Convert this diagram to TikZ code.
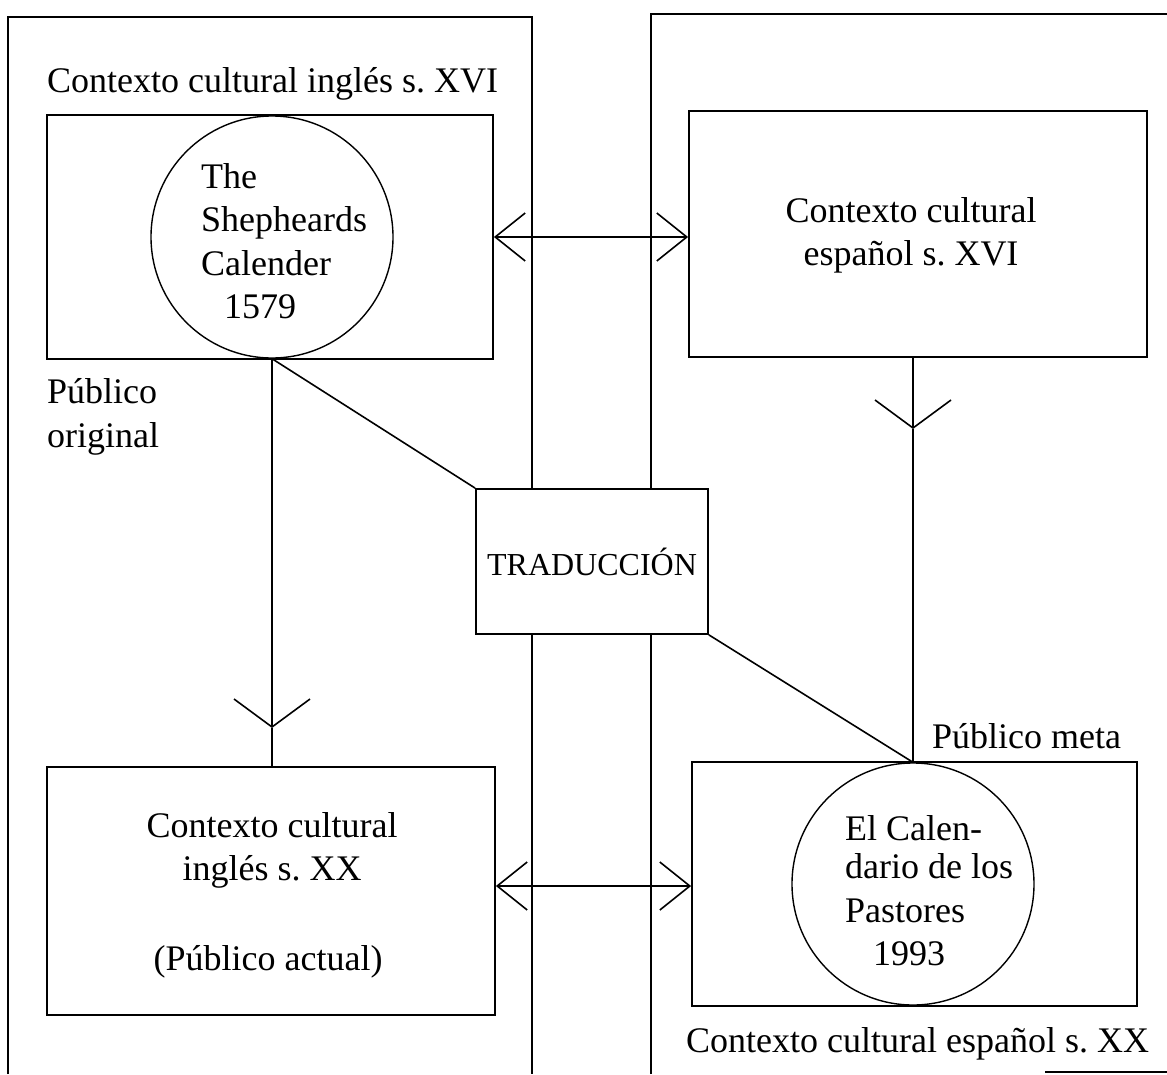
\documentclass[tikz,border=0pt]{standalone}
\usepackage{fontspec}
\setmainfont{Liberation Serif}
\usetikzlibrary{arrows.meta}
\frenchspacing
\begin{document}
\begin{tikzpicture}[x=1pt,y=-1pt,
  every node/.style={font=\fontsize{36}{43}\selectfont, inner sep=0pt},
  ln/.style={line width=1.6pt},
  boxn/.style={draw, line width=1.8pt, rectangle, inner sep=0pt},
  circn/.style={draw, line width=1.4pt, circle, inner sep=0pt, minimum size=242pt},
  lbl/.style={anchor=base west},
  clbl/.style={anchor=base},
  vhead/.style={-{Straight Barb[length=28pt,width=76pt]}},
  hhead/.style={{Straight Barb[length=30pt,width=48pt]}-{Straight Barb[length=30pt,width=48pt]}}
]
\useasboundingbox (0,0) rectangle (1167,1074);
% outer frames
\draw[ln] (8,1074) -- (8,17) -- (532,17) -- (532,1074);
\draw[ln] (651,1074) -- (651,14) -- (1167,14);
\draw[ln] (1045,1072) -- (1167,1072);
% boxes
\node[boxn, minimum width=446pt, minimum height=244pt] (TL) at (270,237) {};
\node[circn] (TLc) at (272,237) {};
\node[boxn, minimum width=458pt, minimum height=246pt] (TR) at (918,234) {};
\node[boxn, minimum width=448pt, minimum height=248pt] (BL) at (271,891) {};
\node[boxn, minimum width=445pt, minimum height=244pt] (BR) at (914.5,884) {};
\node[circn] (BRc) at (913,884) {};
\node[boxn, fill=white, minimum width=232pt, minimum height=145pt, font=\fontsize{32}{38}\selectfont] (TRAD) at (592,561.5) {TRADUCCIÓN};
% connectors
\coordinate (tipL) at (272,728);
\coordinate (tipR) at (913,429);
\coordinate (ya) at (0,886);
\draw[ln] (TLc.south) -- (TRAD.north west);
\draw[ln, vhead] (TLc.south) -- (tipL);
\draw[ln] (tipL) -- (tipL |- BL.north);
\draw[ln, vhead] (tipR |- TR.south) -- (tipR);
\draw[ln] (tipR) -- (BRc.north);
\draw[ln] (TRAD.south east) -- (BRc.north);
\draw[ln, hhead] (TL.east) -- (TR.west |- TL.east);
\draw[ln, hhead] (BL.east |- ya) -- (BR.west |- ya);
% texts
\node[lbl] (t1) at (47,92) {Contexto cultural inglés s. XVI};
\node[lbl] (c1a) at (201,188) {The};
\node[lbl] (c1b) at (201,231) {Shepheards};
\node[lbl] (c1c) at (201,275) {Calender};
\node[lbl] (c1d) at (224,318) {1579};
\node[lbl] (po1) at (47,403) {Público};
\node[lbl] (po2) at (47,447) {original};
\node[clbl] (tr1) at (911,222) {Contexto cultural};
\node[clbl] (tr2) at (911,265) {español s. XVI};
\node[lbl] (pm) at (932,748) {Público meta};
\node[clbl] (bl1) at (272,837) {Contexto cultural};
\node[clbl] (bl2) at (272,880) {inglés s. XX};
\node[clbl] (bl3) at (268,970) {(Público actual)};
\node[lbl] (c2a) at (845,840) {El Calen-};
\node[lbl] (c2b) at (845,878) {dario de los};
\node[lbl] (c2c) at (845,922) {Pastores};
\node[lbl] (c2d) at (873,965) {1993};
\node[lbl] (t2) at (686,1052) {Contexto cultural español s. XX};
\end{tikzpicture}
\end{document}
